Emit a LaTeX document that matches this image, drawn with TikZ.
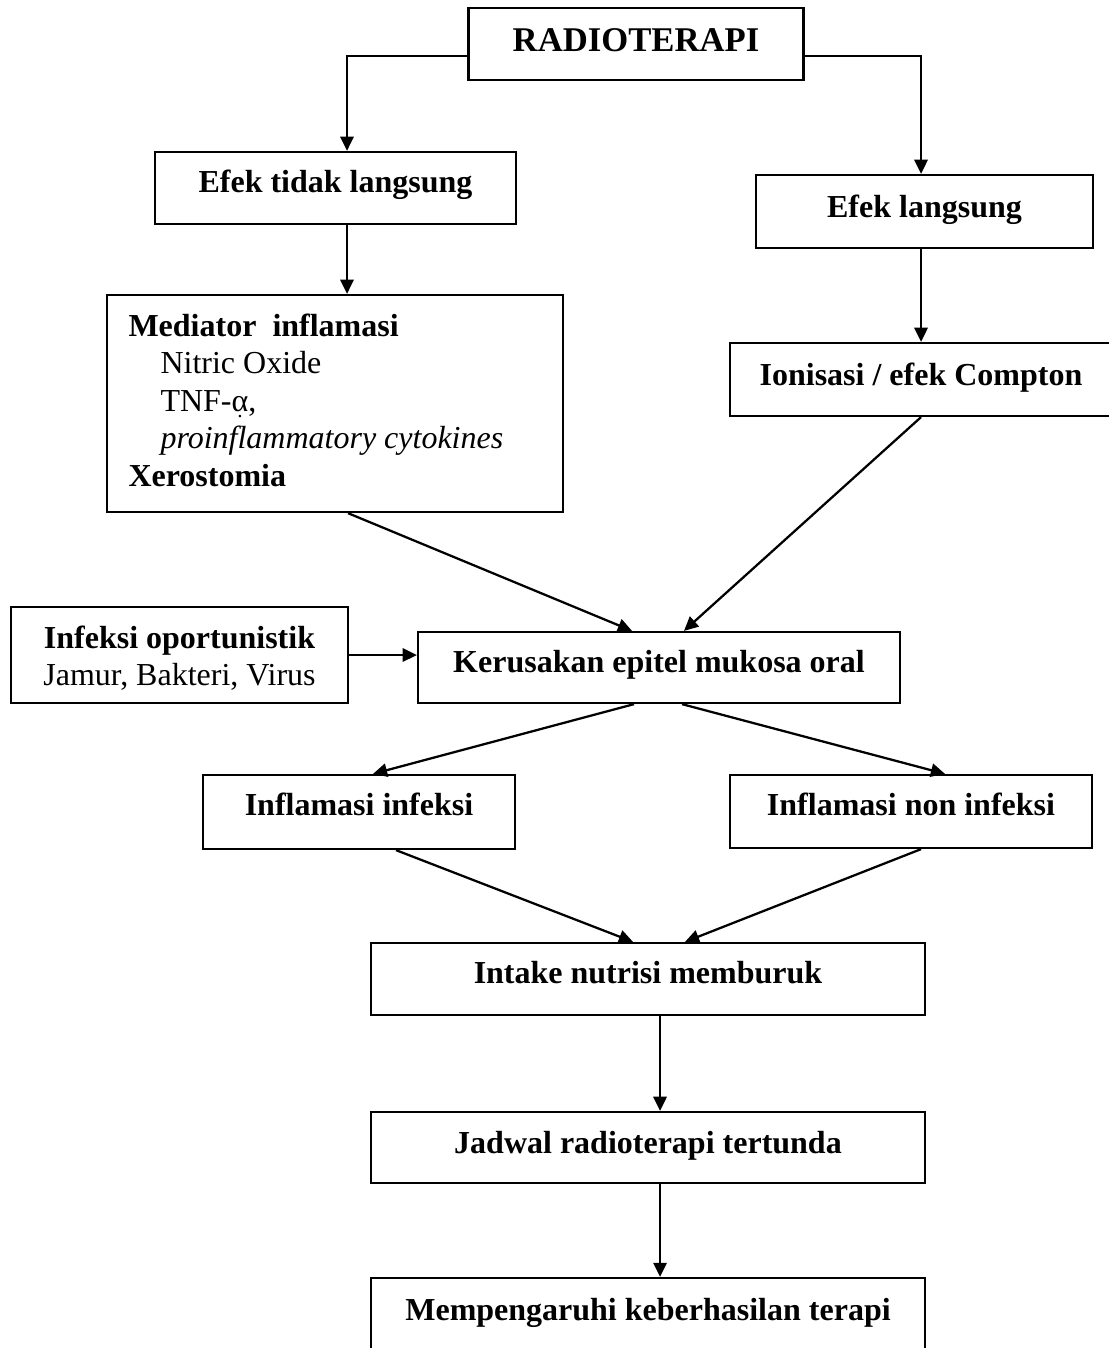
\documentclass[tikz,border=0pt]{standalone}
\usepackage{fontspec}
\setmainfont{Liberation Serif}
\usetikzlibrary{arrows.meta}

\begin{document}
\begin{tikzpicture}[x=0.375pt,y=-0.375pt,
  box/.style={draw, line width=0.85pt, inner xsep=0pt, inner ysep=0pt,
              font=\fontsize{12}{14}\selectfont\bfseries},
  txt/.style={inner sep=0pt, font=\fontsize{12}{14}\selectfont},
  link/.style={line width=0.85pt},
  arr/.style={link, -{Triangle[length=5.3pt,width=5pt]}},
]
\fill[white] (0,0) rectangle (1108,1348);
\useasboundingbox (0,0) rectangle (1108,1348);

% boxes
\node[box, minimum width=125.625pt, text height=16.5pt, text depth=10.5pt,
      font=\fontsize{13}{15}\selectfont\bfseries] (radio) at (636,44) {RADIOTERAPI};
\node[box, minimum width=135.375pt, text height=15pt, text depth=12pt] (efektl) at (335.5,188) {Efek tidak langsung};
\node[box, minimum width=126.375pt, text height=15.75pt, text depth=11.625pt] (efekl) at (924.5,211.5) {Efek langsung};

\node[box, minimum width=171pt, minimum height=81.375pt] (med) at (335,403.5) {};
\node[txt, anchor=base west, font=\fontsize{12}{14}\selectfont\bfseries] (medA) at (128,336) {Mediator\ \ inflamasi};
\node[txt, anchor=base west] (medB) at (160,373.5) {Nitric Oxide};
\node[txt, anchor=base west] (medC) at (160,411) {TNF-{\ooalign{α\cr\hidewidth\raisebox{-0.2em}{\fontsize{8}{9}\selectfont.}\hidewidth\cr}},};
\node[txt, anchor=base west, font=\fontsize{12}{14}\selectfont\itshape] (medD) at (160,448.5) {proinflammatory cytokines};
\node[txt, anchor=base west, font=\fontsize{12}{14}\selectfont\bfseries] (medE) at (128,486) {Xerostomia};

\node[box, minimum width=143.25pt, text height=15.75pt, text depth=11.625pt] (ion) at (921,379.5) {Ionisasi / efek Compton\hspace{6.75pt}};

\node[box, minimum width=126.375pt, minimum height=36pt] (inf) at (179.5,655) {};
\node[txt, anchor=base, font=\fontsize{12}{14}\selectfont\bfseries] (infA) at (179.5,648) {Infeksi oportunistik};
\node[txt, anchor=base] (infB) at (179.5,685) {Jamur, Bakteri, Virus};

\node[box, minimum width=180.75pt, text height=15pt, text depth=11.625pt] (ker) at (659,667.5) {Kerusakan epitel mukosa oral};
\node[box, minimum width=117pt, text height=15pt, text depth=12.75pt] (infl) at (359,812) {Inflamasi infeksi};
\node[box, minimum width=135.75pt, text height=15pt, text depth=12.375pt] (infn) at (911,811.5) {Inflamasi non infeksi};
\node[box, minimum width=207.75pt, text height=15pt, text depth=12pt] (intake) at (648,979) {Intake nutrisi memburuk};
\node[box, minimum width=207.75pt, text height=15.375pt, text depth=11.25pt] (jadwal) at (648,1147.5) {Jadwal radioterapi tertunda};
\node[box, minimum width=207.75pt, text height=15.75pt, text depth=12pt] (mem) at (648,1315) {Mempengaruhi keberhasilan terapi};

% connectors
\coordinate (lx) at ([xshift=4.3125pt]efektl.south);
\coordinate (ix) at ([xshift=4.5pt]intake.south);
\coordinate (jx) at ([xshift=4.5pt]jadwal.south);

\draw[arr] ([yshift=-4.5pt]radio.west) -| ([xshift=4.3125pt]efektl.north);
\draw[arr] ([yshift=-4.5pt]radio.east) -| (efekl.north -| ion.north);
\draw[arr] (lx) -- (lx |- med.north);
\draw[arr] (efekl.south -| ion.north) -- (ion.north);
\draw[arr] ([xshift=4.875pt]med.south) -- ([xshift=-10.125pt]ker.north);
\draw[arr] (ion.south) -- ([xshift=9.375pt]ker.north);
\draw[arr] (inf.east) -- (inf.east -| ker.west);
\draw[arr] ([xshift=-9.375pt]ker.south) -- ([xshift=5.25pt]infl.north);
\draw[arr] ([xshift=8.625pt]ker.south) -- ([xshift=12.75pt]infn.north);
\draw[arr] ([xshift=13.875pt]infl.south) -- ([xshift=-5.625pt]intake.north);
\draw[arr] ([xshift=3.75pt]infn.south) -- ([xshift=13.875pt]intake.north);
\draw[arr] (ix) -- (ix |- jadwal.north);
\draw[arr] (jx) -- (jx |- mem.north);
\end{tikzpicture}
\end{document}
